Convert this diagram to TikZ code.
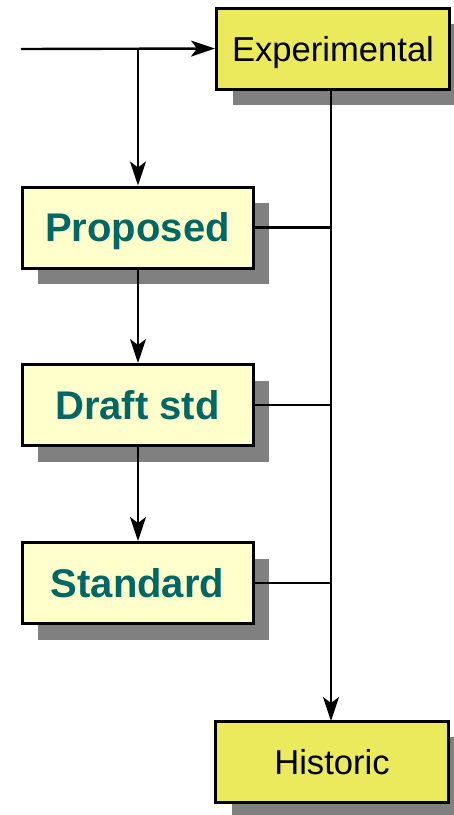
\documentclass[tikz,border=0pt]{standalone}
\usepackage{fontspec}
\setmainfont{Liberation Sans}
\usetikzlibrary{arrows.meta,shadows}
\definecolor{expfill}{RGB}{234,234,92}
\definecolor{propfill}{RGB}{255,255,204}
\definecolor{tealtxt}{RGB}{0,102,102}
\definecolor{shadowgray}{RGB}{128,128,128}
\tikzset{
  boxshadow/.style={drop shadow={shadow xshift=16pt, shadow yshift=-16pt, fill=shadowgray, opacity=1}},
  outerbox/.style={draw=black, line width=3pt, fill=expfill, minimum width=233pt, minimum height=81pt,
    inner sep=0pt, text depth=0pt, font=\fontsize{34.6}{40}\selectfont, boxshadow},
  stagebox/.style={draw=black, line width=3pt, fill=propfill, minimum width=231pt, minimum height=81pt,
    inner sep=0pt, text depth=0pt, text=tealtxt, font=\fontsize{40}{44}\selectfont\bfseries, boxshadow},
  conn/.style={line width=2.4pt},
  arr/.style={conn, -{Stealth[length=24pt,width=16pt,inset=6pt]}}
}
\begin{document}
\begin{tikzpicture}[x=1pt,y=-1pt]
\useasboundingbox (0,0) rectangle (454,815);
\clip (0,0) rectangle (454,815);
\node[outerbox] (exp) at (333,48.5) {Experimental};
\node[outerbox] (hist) at (332,761.5) {Historic};
\node[stagebox] (prop) at (137.5,227.5) {Proposed};
\node[stagebox] (draft) at (137.5,405) {Draft std};
\node[stagebox] (std) at (137.5,583) {Standard};
\coordinate (in) at (21,49);
\coordinate (br) at (138,49);
\coordinate (vt) at (331,89);
\coordinate (vb) at (331,721);
\draw[arr] (in) -- (exp.west);
\draw[arr] (br) -- (br |- prop.north);
\draw[arr] (br |- prop.south) -- (br |- draft.north);
\draw[arr] (br |- draft.south) -- (br |- std.north);
\draw[arr] (vt) -- (vb);
\draw[conn] (prop.east) -- (prop.east -| vt);
\draw[conn] (draft.east) -- (draft.east -| vt);
\draw[conn] (std.east) -- (std.east -| vt);
\end{tikzpicture}
\end{document}
